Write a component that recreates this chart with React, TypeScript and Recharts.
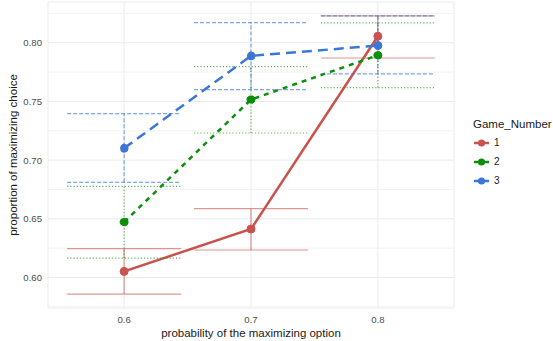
import React from "react";
import {
  CartesianGrid,
  ComposedChart,
  ErrorBar,
  Line,
  ReferenceLine,
  XAxis,
  YAxis,
} from "recharts";

const probabilities = [0.6, 0.7, 0.8];

const game1 = [0.6052, 0.6413, 0.8055];
const game1Low = [0.5859, 0.6234, 0.787];
const game1High = [0.6245, 0.6586, 0.8228];

const game2 = [0.6472, 0.7516, 0.7893];
const game2Low = [0.6165, 0.7231, 0.7618];
const game2High = [0.6777, 0.7797, 0.8169];

const game3 = [0.7101, 0.7888, 0.7976];
const game3Low = [0.6811, 0.7601, 0.7734];
const game3High = [0.7396, 0.8172, 0.8228];

const yMajorTicks = [0.6, 0.65, 0.7, 0.75, 0.8];
const yMinorTicks = [0.575, 0.625, 0.675, 0.725, 0.775, 0.825];
const xTicks = [0.6, 0.7, 0.8];

const RED = "#c9524c";
const GREEN = "#0b8f0b";
const BLUE = "#3a77d6";
const FONT = "'Liberation Sans', Arial, sans-serif";

const data = probabilities.map((p, i) => ({
  p,
  g1: game1[i],
  g1err: [game1[i] - game1Low[i], game1High[i] - game1[i]],
  g2: game2[i],
  g2err: [game2[i] - game2Low[i], game2High[i] - game2[i]],
  g3: game3[i],
  g3err: [game3[i] - game3Low[i], game3High[i] - game3[i]],
}));

const legendItems = [
  { name: "1", color: RED },
  { name: "2", color: GREEN },
  { name: "3", color: BLUE },
];

function GameLegend() {
  return (
    <div
      style={{
        position: "absolute",
        left: 473,
        top: 118,
        width: 80,
        fontFamily: FONT,
        color: "#1a1a1a",
      }}
    >
      <div style={{ fontSize: 11.5, marginBottom: 3 }}>Game_Number</div>
      {legendItems.map((item) => (
        <div
          key={item.name}
          style={{ display: "flex", alignItems: "center", height: 19 }}
        >
          <svg width={17} height={10} style={{ marginRight: 4 }}>
            <line x1={1} y1={5} x2={16} y2={5} stroke={item.color} strokeWidth={2.5} />
            <circle cx={8.5} cy={5} r={3.6} fill={item.color} />
          </svg>
          <span style={{ fontSize: 10 }}>{item.name}</span>
        </div>
      ))}
    </div>
  );
}

export default function App() {
  return (
    <div
      style={{
        position: "fixed",
        left: 0,
        top: 0,
        width: 553,
        height: 341,
        background: "#fff",
      }}
    >
      <ComposedChart
        width={553}
        height={341}
        data={data}
        margin={{ top: 2, right: 99, bottom: 0, left: 0 }}
      >
        <CartesianGrid stroke="#ebebeb" strokeWidth={1} />
        {yMinorTicks.map((v) => (
          <ReferenceLine key={v} y={v} stroke="#f3f3f3" strokeWidth={1} />
        ))}
        <XAxis
          dataKey="p"
          type="number"
          domain={[0.54, 0.86]}
          ticks={xTicks}
          allowDataOverflow
          axisLine={false}
          tickLine={false}
          tickMargin={2}
          height={33}
          tick={{ fill: "#4d4d4d", fontSize: 9.6, fontFamily: FONT }}
          label={{
            content: ({ viewBox }: any) => (
              <text
                x={viewBox.x + viewBox.width / 2}
                y={333}
                textAnchor="middle"
                dominantBaseline="central"
                fill="#1a1a1a"
                fontSize={11.5}
                fontFamily={FONT}
              >
                probability of the maximizing option
              </text>
            ),
          }}
        />
        <YAxis
          type="number"
          domain={[0.574, 0.8347]}
          ticks={yMajorTicks}
          allowDataOverflow
          axisLine={false}
          tickLine={false}
          tickMargin={0}
          width={48}
          tickFormatter={(v: number) => v.toFixed(2)}
          tick={{ fill: "#4d4d4d", fontSize: 9.6, fontFamily: FONT }}
          label={{
            content: ({ viewBox }: any) => {
              const cx = 13;
              const cy = viewBox.y + viewBox.height / 2;
              return (
                <text
                  x={cx}
                  y={cy}
                  transform={`rotate(-90, ${cx}, ${cy})`}
                  textAnchor="middle"
                  dominantBaseline="central"
                  fill="#1a1a1a"
                  fontSize={11.5}
                  fontFamily={FONT}
                >
                  proportion of maximizing choice
                </text>
              );
            },
          }}
        />
        <Line
          dataKey="g1"
          stroke={RED}
          strokeWidth={2.5}
          dot={{ r: 4, fill: RED, stroke: RED, strokeWidth: 1 }}
          activeDot={false}
          isAnimationActive={false}
        >
          <ErrorBar
            dataKey="g1err"
            direction="y"
            width={57}
            stroke={RED}
            strokeWidth={1.2}
            strokeOpacity={0.6}
            isAnimationActive={false}
          />
        </Line>
        <Line
          dataKey="g2"
          stroke={GREEN}
          strokeWidth={2.5}
          strokeDasharray="5 5"
          dot={{ r: 4, fill: GREEN, stroke: GREEN, strokeWidth: 1 }}
          activeDot={false}
          isAnimationActive={false}
        >
          <ErrorBar
            dataKey="g2err"
            direction="y"
            width={57}
            stroke={GREEN}
            strokeWidth={1.2}
            strokeOpacity={0.65}
            strokeDasharray="1.2 2"
            isAnimationActive={false}
          />
        </Line>
        <Line
          dataKey="g3"
          stroke={BLUE}
          strokeWidth={2.5}
          strokeDasharray="10 6"
          dot={{ r: 4, fill: BLUE, stroke: BLUE, strokeWidth: 1 }}
          activeDot={false}
          isAnimationActive={false}
        >
          <ErrorBar
            dataKey="g3err"
            direction="y"
            width={57}
            stroke={BLUE}
            strokeWidth={1.2}
            strokeOpacity={0.65}
            strokeDasharray="4 2"
            isAnimationActive={false}
          />
        </Line>
      </ComposedChart>
      <GameLegend />
    </div>
  );
}
